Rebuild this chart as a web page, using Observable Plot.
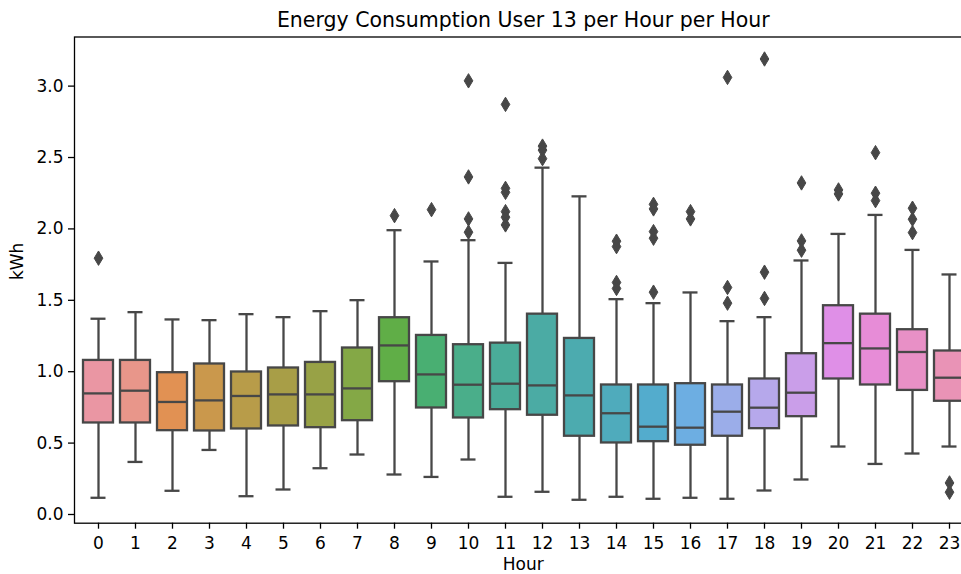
<!DOCTYPE html>
<html>
<head>
<meta charset="utf-8">
<script src="https://cdn.jsdelivr.net/npm/d3@7"></script>
<script src="https://cdn.jsdelivr.net/npm/@observablehq/plot@0.6"></script>
<style>
  html, body { margin: 0; padding: 0; background: #fff; overflow: hidden; }
  #chart { width: 961px; height: 574px; }
</style>
</head>
<body>
<div id="chart"></div>
<script>
// ---- Data ----
const hours        = [0,1,2,3,4,5,6,7,8,9,10,11,12,13,14,15,16,17,18,19,20,21,22,23];
const whiskerLow   = [0.117,0.368,0.166,0.452,0.128,0.175,0.324,0.420,0.280,0.263,0.385,0.124,0.159,0.103,0.124,0.110,0.117,0.110,0.168,0.245,0.476,0.354,0.427,0.476];
const q1           = [0.641,0.641,0.587,0.585,0.599,0.620,0.608,0.657,0.930,0.746,0.676,0.734,0.695,0.548,0.501,0.510,0.485,0.548,0.601,0.685,0.949,0.907,0.869,0.793];
const median       = [0.848,0.867,0.788,0.799,0.830,0.841,0.841,0.883,1.184,0.981,0.909,0.916,0.904,0.834,0.709,0.615,0.608,0.720,0.748,0.853,1.200,1.163,1.138,0.958];
const q3           = [1.079,1.079,0.993,1.054,0.998,1.026,1.065,1.166,1.378,1.254,1.189,1.200,1.403,1.233,0.907,0.907,0.916,0.907,0.949,1.126,1.462,1.403,1.294,1.145];
const whiskerHigh  = [1.371,1.417,1.366,1.361,1.403,1.382,1.424,1.501,1.991,1.772,1.921,1.762,2.429,2.228,1.508,1.480,1.555,1.354,1.382,1.779,1.965,2.098,1.853,1.681];
const outlierHour  = [0, 8, 9, 10,10,10,10, 11,11,11,11,11,11, 12,12,12, 14,14,14,14, 15,15,15,15,15, 16,16, 17,17,17, 18,18,18, 19,19,19, 20,20, 21,21,21, 22,22,22, 23,23];
const outlierValue = [1.795, 2.093, 2.135, 3.037,2.364,2.070,1.977, 2.872,2.284,2.256,2.121,2.082,2.028, 2.580,2.552,2.492, 1.914,1.876,1.625,1.583, 2.172,2.140,1.981,1.935,1.557, 2.121,2.070, 3.061,1.590,1.480, 3.190,1.697,1.513, 2.322,1.916,1.851, 2.273,2.245, 2.534,2.250,2.198, 2.145,2.068,1.974, 0.221,0.156];
const yTicks       = [0, 0.5, 1.0, 1.5, 2.0, 2.5, 3.0];

const boxes = hours.map((h, i) => ({hour: h, lo: whiskerLow[i], q1: q1[i], med: median[i], q3: q3[i], hi: whiskerHigh[i]}));
const outliers = outlierHour.map((h, i) => ({hour: h, v: outlierValue[i]}));

// ---- husl palette, desaturated by 0.75 (seaborn style) ----
const M = [[3.2406, -1.5372, -0.4986], [-0.9689, 1.8758, 0.0415], [0.0557, -0.2040, 1.0570]];
const refU = 0.19784, refV = 0.46834, kappa = 903.2962962, eps = 0.0088564516;
function maxChroma(L, H) {
  const hr = H / 360 * 2 * Math.PI, sH = Math.sin(hr), cH = Math.cos(hr);
  const sub1 = Math.pow(L + 16, 3) / 1560896;
  const sub2 = sub1 > eps ? sub1 : L / kappa;
  let res = Infinity;
  for (const [m1, m2, m3] of M) {
    const top = (0.99915 * m1 + 1.05122 * m2 + 1.14460 * m3) * sub2;
    const rb = 0.86330 * m3 - 0.17266 * m2;
    const lb = 0.12949 * m3 - 0.38848 * m1;
    const bottom = (rb * sH + lb * cH) * sub2;
    for (const t of [0, 1]) {
      const C = L * (top - 1.05122 * t) / (bottom + 0.17266 * sH * t);
      if (C > 0 && C < res) res = C;
    }
  }
  return res;
}
function huslToRgb(h, s, l) {
  const C = maxChroma(l, h) / 100 * s;
  const hr = h / 180 * Math.PI;
  const U = Math.cos(hr) * C, V = Math.sin(hr) * C;
  const Y = l > 8 ? Math.pow((l + 16) / 116, 3) : l / kappa;
  const vU = U / (13 * l) + refU, vV = V / (13 * l) + refV;
  const X = 0 - (9 * Y * vU) / ((vU - 4) * vV - vU * vV);
  const Z = (9 * Y - 15 * vV * Y - vV * X) / (3 * vV);
  return M.map(r => {
    const c = r[0] * X + r[1] * Y + r[2] * Z;
    const v = c <= 0.0031308 ? 12.92 * c : 1.055 * Math.pow(c, 1 / 2.4) - 0.055;
    return Math.min(1, Math.max(0, v));
  });
}
const n = hours.length;
const hslColors = hours.map((_, i) => {
  const hue = ((i / n + 0.01) % 1) * 359;
  const [r, g, b] = huslToRgb(hue, 90 * 0.99, 70 * 0.99);
  const c = d3.hsl(d3.rgb(r * 255, g * 255, b * 255));
  c.s *= 0.75;
  return c;
});
const colors = hslColors.map(c => c.formatHex());
const gray = "#474747";

const thinDiamond = {
  draw(ctx, size) {
    const r = Math.sqrt(size / Math.PI);
    ctx.moveTo(0, -r);
    ctx.lineTo(0.6 * r, 0);
    ctx.lineTo(0, r);
    ctx.lineTo(-0.6 * r, 0);
    ctx.closePath();
  }
};

const lw = 2.3;
const chart = Plot.plot({
  width: 961,
  height: 574,
  marginTop: 36.5,
  marginBottom: 51.3,
  marginLeft: 74,
  marginRight: -10.6,
  style: {fontFamily: "'DejaVu Sans', sans-serif", fontSize: "17px", color: "black", background: "white"},
  x: {type: "band", domain: hours, paddingInner: 0.2, paddingOuter: 0.1, axis: null},
  y: {domain: [-0.061, 3.344], axis: null},
  color: {type: "ordinal", domain: hours, range: colors},
  marks: [
    Plot.axisX({tickSize: 6, tickPadding: 8, strokeWidth: 1.3, label: null}),
    Plot.axisY({ticks: yTicks, tickFormat: d3.format(".1f"), tickSize: 6, tickPadding: 5, strokeWidth: 1.3, label: null}),
    Plot.ruleX(boxes, {x: "hour", y1: "lo", y2: "q1", stroke: gray, strokeWidth: lw}),
    Plot.ruleX(boxes, {x: "hour", y1: "q3", y2: "hi", stroke: gray, strokeWidth: lw}),
    Plot.tickY(boxes, {x: "hour", y: "lo", stroke: gray, strokeWidth: lw, insetLeft: 7.5, insetRight: 7.5}),
    Plot.tickY(boxes, {x: "hour", y: "hi", stroke: gray, strokeWidth: lw, insetLeft: 7.5, insetRight: 7.5}),
    Plot.barY(boxes, {x: "hour", y1: "q1", y2: "q3", fill: "hour", stroke: gray, strokeWidth: lw}),
    Plot.tickY(boxes, {x: "hour", y: "med", stroke: gray, strokeWidth: lw}),
    Plot.dot(outliers, {x: "hour", y: "v", symbol: thinDiamond, r: 7.2, fill: gray, stroke: gray, strokeWidth: 1}),
    Plot.frame({stroke: "black", strokeWidth: 1.3}),
    Plot.text(["Energy Consumption User 13 per Hour per Hour"], {frameAnchor: "top", dy: -16.4, lineAnchor: "middle", fontSize: 20.5, fill: "black"}),
    Plot.text(["Hour"], {frameAnchor: "bottom", dy: 41.5, lineAnchor: "middle", fill: "black"}),
    Plot.text(["kWh"], {frameAnchor: "left", dx: -56.5, rotate: -90, lineAnchor: "middle", fill: "black"})
  ]
});
document.getElementById("chart").appendChild(chart);
</script>
</body>
</html>
